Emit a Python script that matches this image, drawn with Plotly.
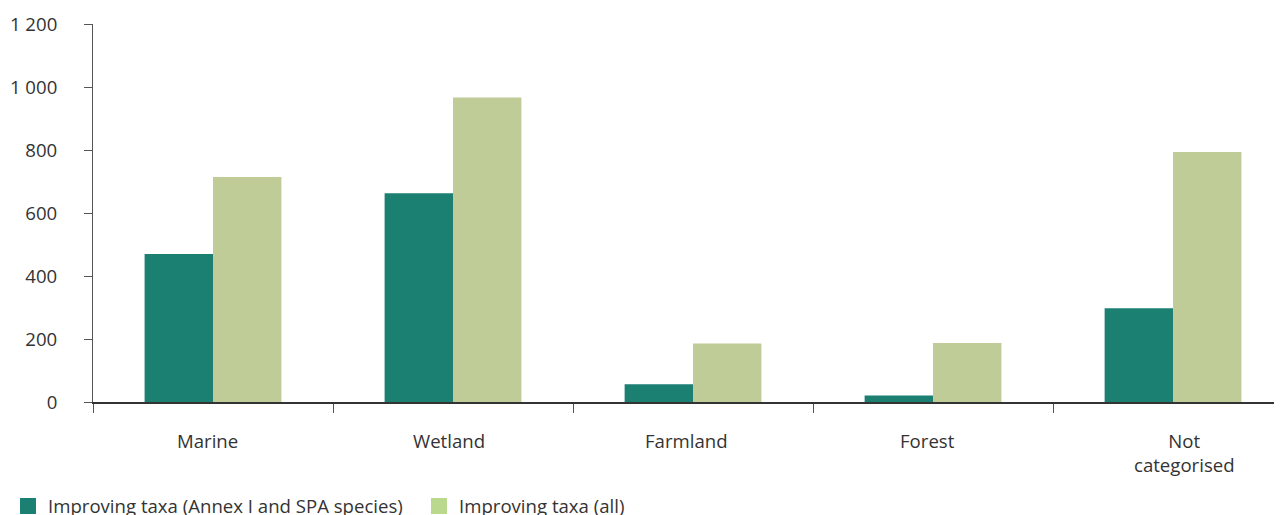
import plotly.graph_objects as go

categories = ["Marine", "Wetland", "Farmland", "Forest", "Not<br>categorised"]
annex_spa = [470, 663, 56, 21, 298]
all_taxa = [714, 967, 186, 187, 794]
series_names = ["Improving taxa (Annex I and SPA species)", "Improving taxa (all)"]
y_ticks = [0, 200, 400, 600, 800, 1000, 1200]
label_shift = [-6, -4, -7, -6, 11]

FONT = "Open Sans"
TXT = "#333333"
FS = 18.6
DARK = "#1b7f72"
LIGHT = "#bfcc97"
LIGHT_KEY = "#bbd98e"

fig = go.Figure()
fig.add_trace(go.Bar(x=categories, y=annex_spa, name=series_names[0], showlegend=False,
                     marker=dict(color=DARK, line=dict(width=0))))
fig.add_trace(go.Bar(x=categories, y=all_taxa, name=series_names[1], showlegend=False,
                     marker=dict(color=LIGHT, line=dict(width=0))))
# legend keys
for name, col in zip(series_names, [DARK, LIGHT_KEY]):
    fig.add_trace(go.Scatter(x=[None], y=[None], mode="markers", name=name,
                             marker=dict(symbol="square", size=16, color=col, line=dict(width=0))))

for cat, dx in zip(categories, label_shift):
    fig.add_annotation(x=cat, y=0, xref="x", yref="paper", yanchor="top", xanchor="center",
                       yshift=-24, xshift=dx, text=cat, showarrow=False,
                       font=dict(family=FONT, size=FS, color=TXT), align="center")

# the page body has an 8px margin; the figure is sized to fill the rest of the window
fig.update_layout(
    width=1274, height=507,
    paper_bgcolor="white", plot_bgcolor="white",
    barmode="group", bargap=0.43, bargroupgap=0,
    margin=dict(l=85, r=0, t=16, b=113, autoexpand=False),
    font=dict(family=FONT, size=FS, color=TXT),
    separators=". ",
    showlegend=True,
    legend=dict(orientation="h", x=-0.0075, xref="container", xanchor="left",
                y=-0.226, yanchor="top", font=dict(size=FS, color=TXT),
                entrywidth=366, entrywidthmode="pixels",
                itemsizing="trace", bgcolor="rgba(0,0,0,0)"),
    xaxis=dict(
        range=[-0.5, 4.454], showgrid=False, zeroline=False,
        showline=True, linecolor="#333333", linewidth=2,
        ticks="outside", tickson="boundaries", ticklen=9, tickcolor="#555555", tickwidth=1,
        showticklabels=False,
    ),
    yaxis=dict(
        range=[0, 1200], tickvals=y_ticks, showgrid=False, zeroline=False,
        showline=True, linecolor="#555555", linewidth=1,
        ticks="outside", ticklen=8, tickcolor="#555555", tickwidth=1,
        separatethousands=True, ticklabelstandoff=23, tickfont=dict(size=FS, color=TXT),
    ),
)

fig.write_html("out.html")
